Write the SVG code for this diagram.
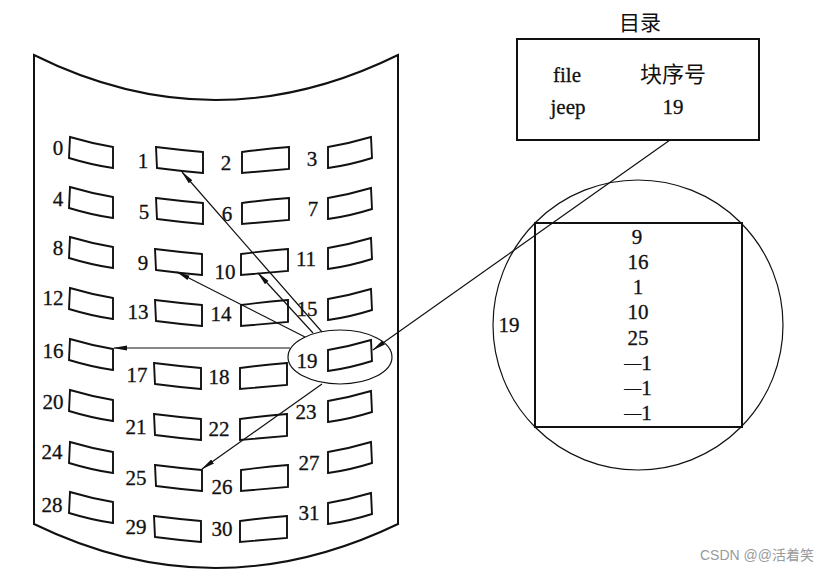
<svg xmlns="http://www.w3.org/2000/svg" xmlns:xlink="http://www.w3.org/1999/xlink" width="836" height="574" viewBox="0 0 836 574">
<style>
.o{fill:none;stroke:#111;stroke-width:2}
.b{fill:#fff;stroke:#111;stroke-width:1.9;stroke-linejoin:miter}
.n{font-family:"Liberation Serif","Times New Roman",serif;font-size:21px;fill:#111;stroke:#111;stroke-width:0.3;text-anchor:middle}
.c{font-family:"Liberation Serif","Noto Sans CJK SC",serif;font-size:21px;fill:#111;stroke:#111;stroke-width:0.3;text-anchor:middle}
.k{font-family:"Noto Sans CJK SC","Noto Sans CJK JP",sans-serif;font-size:21px;fill:#111;text-anchor:middle}
.d{font-size:17px}
.l{fill:none;stroke:#111;stroke-width:1.2}
.wm{font-family:"Liberation Sans","Noto Sans CJK SC",sans-serif;font-size:14px;fill:#9a9a9a}
</style>
<defs>
<marker id="ah" viewBox="0 0 14 6" refX="13" refY="3" markerWidth="14" markerHeight="6" markerUnits="userSpaceOnUse" orient="auto">
<path d="M0,0.6 L14,3 L0,5.4 Z" fill="#111"/>
</marker>
<path id="c1" class="b" d="M0,0 Q22,6.5 43,10 L43,31 Q22,28 -1,21 Z"/>
<path id="c2" class="b" d="M0,0 Q24,3 47,5 L47,26 Q24,24 1,21 Z"/>
<path id="c3" class="b" d="M0,5 Q23,2 47,0 L47,22 Q24,24 0,26 Z"/>
<path id="c4" class="b" d="M0,10 Q21,6.5 43,0 L44,21 Q22,28 0,31 Z"/>
</defs>
<rect width="836" height="574" fill="#fff"/>
<g id="disk">
<path class="o" d="M34,55 Q215,145 398,55 L398,524 Q215,612 34,524 Z"/>
</g>
<g id="b0"><use xlink:href="#c1" x="70" y="137"/><text class="n" x="58" y="155">0</text></g>
<g id="b1"><use xlink:href="#c2" x="156" y="147"/><text class="n" x="143" y="168">1</text></g>
<g id="b2"><use xlink:href="#c3" x="242" y="147"/><text class="n" x="226" y="170">2</text></g>
<g id="b3"><use xlink:href="#c4" x="328" y="137"/><text class="n" x="312" y="166">3</text></g>
<g id="b4"><use xlink:href="#c1" x="70" y="187"/><text class="n" x="58" y="206">4</text></g>
<g id="b5"><use xlink:href="#c2" x="156" y="198"/><text class="n" x="144" y="219">5</text></g>
<g id="b6"><use xlink:href="#c3" x="242" y="198"/><text class="n" x="227" y="221">6</text></g>
<g id="b7"><use xlink:href="#c4" x="328" y="188"/><text class="n" x="313" y="216">7</text></g>
<g id="b8"><use xlink:href="#c1" x="70" y="237"/><text class="n" x="58" y="255">8</text></g>
<g id="b9"><use xlink:href="#c2" x="155" y="249"/><text class="n" x="143" y="270">9</text></g>
<g id="b10"><use xlink:href="#c3" x="241" y="249"/><text class="n" x="225" y="279">10</text></g>
<g id="b11"><use xlink:href="#c4" x="328" y="238"/><text class="n" x="306" y="266">11</text></g>
<g id="b12"><use xlink:href="#c1" x="70" y="288"/><text class="n" x="53" y="305">12</text></g>
<g id="b13"><use xlink:href="#c2" x="155" y="300"/><text class="n" x="138" y="319">13</text></g>
<g id="b14"><use xlink:href="#c3" x="241" y="300"/><text class="n" x="221" y="321">14</text></g>
<g id="b15"><use xlink:href="#c4" x="328" y="289"/><text class="n" x="307" y="316">15</text></g>
<g id="b16"><use xlink:href="#c1" x="70" y="339"/><text class="n" x="53" y="358">16</text></g>
<g id="b17"><use xlink:href="#c2" x="154" y="363"/><text class="n" x="137" y="382">17</text></g>
<g id="b18"><use xlink:href="#c3" x="240" y="363"/><text class="n" x="219" y="384">18</text></g>
<g id="b19"><use xlink:href="#c4" x="328" y="340"/><text class="n" x="307" y="368">19</text></g>
<g id="b20"><use xlink:href="#c1" x="70" y="390"/><text class="n" x="53" y="409">20</text></g>
<g id="b21"><use xlink:href="#c2" x="154" y="414"/><text class="n" x="136" y="434">21</text></g>
<g id="b22"><use xlink:href="#c3" x="240" y="414"/><text class="n" x="219" y="436">22</text></g>
<g id="b23"><use xlink:href="#c4" x="328" y="391"/><text class="n" x="306" y="419">23</text></g>
<g id="b24"><use xlink:href="#c1" x="70" y="442"/><text class="n" x="52" y="459">24</text></g>
<g id="b25"><use xlink:href="#c2" x="155" y="465"/><text class="n" x="136" y="485">25</text></g>
<g id="b26"><use xlink:href="#c3" x="241" y="465"/><text class="n" x="222" y="494">26</text></g>
<g id="b27"><use xlink:href="#c4" x="328" y="442"/><text class="n" x="309" y="470">27</text></g>
<g id="b28"><use xlink:href="#c1" x="70" y="492"/><text class="n" x="52" y="512">28</text></g>
<g id="b29"><use xlink:href="#c2" x="154" y="516"/><text class="n" x="136" y="534">29</text></g>
<g id="b30"><use xlink:href="#c3" x="240" y="516"/><text class="n" x="222" y="536">30</text></g>
<g id="b31"><use xlink:href="#c4" x="328" y="493"/><text class="n" x="309" y="520">31</text></g>
<g id="group19"><ellipse class="l" cx="340" cy="357" rx="52" ry="27"/></g>
<g id="directory">
<text class="k" x="640" y="30">目录</text>
<rect class="o" x="517" y="39" width="242" height="101"/>
<text class="c" x="567" y="82">file</text>
<text class="k" x="673" y="82" style="font-size:22px">块序号</text>
<text class="c" x="568" y="114">jeep</text>
<text class="c" x="673" y="114">19</text>
</g>
<g id="block19">
<circle class="l" cx="638" cy="325" r="145"/>
<rect class="o" x="535" y="223" width="207" height="204"/>
<text class="n" x="509" y="332">19</text>
<text class="n" x="637" y="244">9</text>
<text class="n" x="638" y="269">16</text>
<text class="n" x="638" y="294">1</text>
<text class="n" x="638" y="319">10</text>
<text class="n" x="638" y="345">25</text>
<text class="n" x="638" y="370"><tspan class="d" dy="-2">—</tspan><tspan dy="2">1</tspan></text>
<text class="n" x="638" y="395"><tspan class="d" dy="-2">—</tspan><tspan dy="2">1</tspan></text>
<text class="n" x="638" y="420"><tspan class="d" dy="-2">—</tspan><tspan dy="2">1</tspan></text>
</g>
<g id="connectors">
<path class="l" d="M322,332 L182,172" marker-end="url(#ah)"/>
<path class="l" d="M313,333 L258,273" marker-end="url(#ah)"/>
<path class="l" d="M305,337 L177,272" marker-end="url(#ah)"/>
<path class="l" d="M290,348 L114,348" marker-end="url(#ah)"/>
<path class="l" d="M322,384 L202,469" marker-end="url(#ah)"/>
<path class="l" d="M670,140 L373,350" marker-end="url(#ah)"/>
</g>
<text class="wm" x="700" y="560">CSDN @@活着笑</text>
</svg>
